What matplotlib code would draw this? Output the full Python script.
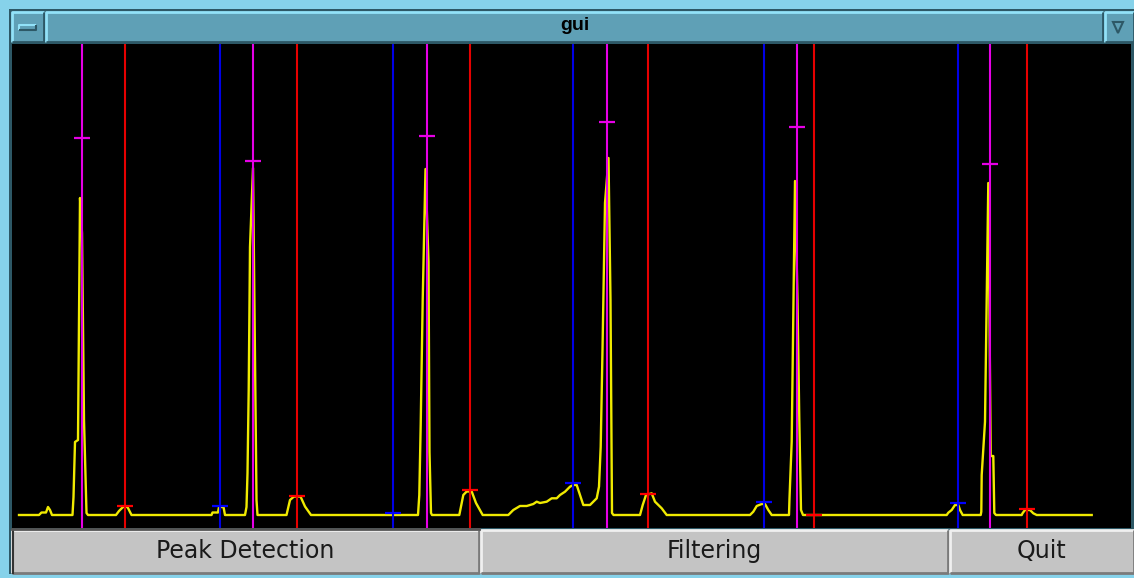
import matplotlib
matplotlib.use("Agg")
import matplotlib.pyplot as plt
from matplotlib.patches import Rectangle, Polygon

# ---------------- data ----------------
# ECG trace (sample position, amplitude)
t = [19, 39, 41.5, 46, 48, 50, 52, 72.5, 73.5, 75, 78, 80, 82, 84, 86.5, 88,
     116, 119, 123, 127.5, 131.5, 211.5, 212.5, 218, 219, 223.5, 225,
     245, 246.5, 247.5, 248.7, 250, 253, 256.5, 257.5,
     286.5, 290, 294, 300.5, 305, 311,
     418, 419.3, 420.7, 422.7, 425.5, 428.5, 429.5, 431, 432,
     459.3, 463.3, 466.7, 471.7, 476, 482.7,
     508.3, 513.3, 520, 526.7, 533.3, 536.7, 540, 546.7, 551.7, 556.7, 560, 565,
     570, 573.3, 576.7, 580, 583.3, 590, 596.7, 599, 600.7, 602.5, 605, 608.5,
     610.5, 612, 613.5,
     640, 642.7, 646, 651.7, 655, 661.7, 666.7,
     750, 753.3, 756.7, 761.7, 765, 768.3, 771.7,
     789, 789.5, 791.7, 795, 797.5, 799.3, 801, 803,
     946.7, 948.3, 951.7, 955, 958.3, 960, 962.7,
     980.7, 981.3, 981.7, 985, 988.3, 990.7, 993.3, 994.3, 996,
     1021.7, 1022.5, 1025, 1030, 1033.3, 1036.7, 1091.7]
ecg = [0, 0, 2.5, 2.5, 8, 5, 0, 0, 18, 73, 75, 317, 282, 95, 2, 0,
       0, 4, 8, 8, 0, 0, 2.5, 2.5, 8, 8, 0,
       0, 8, 42, 125, 268, 347, 15, 0,
       0, 15, 18.5, 18.5, 8.5, 0,
       0, 20, 90, 215, 346, 253, 63, 2, 0,
       0, 20, 23.5, 23.5, 12, 0,
       0, 5, 9, 9, 11, 13.3, 12, 13.3, 16.7, 16.7, 20, 23.3,
       28.3, 30, 30, 20, 10, 10, 16.7, 28.3, 68.3, 165, 312, 357,
       215, 2, 0,
       0, 10, 20, 21.7, 13.3, 6.7, 0,
       0, 3.3, 9, 11, 11, 5, 0,
       0, 16.7, 73.3, 334, 215, 95, 5, 0,
       0, 2.3, 5, 10, 10, 5, 0,
       0, 3.3, 40, 93.3, 332, 59, 59, 2, 0,
       0, 1.7, 5, 5, 1.7, 0, 0]

# detected R peaks (magenta)
r_pos = [81.7, 252.7, 427.3, 607.3, 796.7, 990]
r_amp = [376.7, 354, 378.7, 393.3, 387.7, 350.7]
# detected T waves (red)
t_pos = [125, 297.3, 470, 648.3, 813.7, 1027.3]
t_amp = [9.3, 18.7, 25, 21, 0, 6]
# detected P waves (blue)
p_pos = [220.3, 393.3, 573.3, 764.3, 958.3]
p_amp = [9.3, 1.7, 32, 13.3, 11.7]

title = "gui"
buttons = ["Peak Detection", "Filtering", "Quit"]

# ---------------- figure ----------------
W, H = 1134, 578
fig = plt.figure(figsize=(W / 100, H / 100), dpi=100)
fig.patch.set_facecolor("#86d2ea")

# chrome overlay in pixel coordinates
ch = fig.add_axes([0, 0, 1, 1], zorder=0)
ch.set_xlim(0, W)
ch.set_ylim(H, 0)
ch.axis("off")

def bevel(ax, x0, y0, x1, y1, fill, light, dark, lw=2):
    ax.add_patch(Rectangle((x0, y0), x1 - x0, y1 - y0, facecolor=fill,
                           edgecolor="none"))
    ax.plot([x0, x0, x1], [y1, y0, y0], color=light, lw=lw, solid_capstyle="butt")
    ax.plot([x0, x1, x1], [y1, y1, y0], color=dark, lw=lw, solid_capstyle="butt")

# dark frame line around contents
ch.add_patch(Rectangle((9, 9), 1134 - 9, 576 - 9 - 2, facecolor="#2d5866",
                       edgecolor="none"))
# title bar pieces
bevel(ch, 12, 12, 44, 42, "#5fa0b6", "#92e2f8", "#2d5866")
bevel(ch, 46, 12, 1103, 42, "#5fa0b6", "#92e2f8", "#2d5866")
bevel(ch, 1105, 12, 1134, 42, "#5fa0b6", "#92e2f8", "#2d5866")
bevel(ch, 19, 25, 36, 30, "#5fa0b6", "#92e2f8", "#2d5866", lw=1.5)
ch.add_patch(Polygon([[1113, 22], [1123, 22], [1118, 33]], closed=True,
                     facecolor="none", edgecolor="#2d5866", lw=1.5))
ch.text(575, 26, title, ha="center", va="center", fontsize=14,
        fontweight="bold", family="Liberation Sans", color="black")

# buttons
btn_x = [(12, 479), (481, 948), (950, 1134)]
for (x0, x1), lab in zip(btn_x, buttons):
    bevel(ch, x0, 530, x1, 573, "#c4c4c4", "#f0f0f0", "#7a7a7a")
    ch.text((x0 + x1) / 2, 551, lab, ha="center", va="center", fontsize=17,
            family="DejaVu Sans", color="#1a1a1a")
ch.plot([13, 13], [530, 573], color="#333333", lw=1.5)
ch.plot([12, 479], [529, 529], color="#555555", lw=2)

# ---------------- plot ----------------
ax = fig.add_axes([12 / W, (H - 528) / H, (1131 - 12) / W, (528 - 44) / H], zorder=2)
ax.set_facecolor("black")
ax.set_xlim(12, 1131)
ax.set_ylim(-13, 471)
for s in ax.spines.values():
    s.set_visible(False)
ax.set_xticks([])
ax.set_yticks([])

lw = 1.5
ax.plot(t, ecg, color="#f0ea00", lw=1.7, zorder=2)
for x in p_pos:
    ax.axvline(x, color="#0000e6", lw=lw, zorder=3)
for x in t_pos:
    ax.axvline(x, color="#e60000", lw=lw, zorder=3)
for x in r_pos:
    ax.axvline(x, color="#e600e6", lw=lw, zorder=3)

ms = 12
ax.plot(r_pos, r_amp, ls="none", marker="_", ms=ms, mew=1.6, color="#e600e6", zorder=4)
ax.plot(t_pos, t_amp, ls="none", marker="_", ms=ms, mew=1.6, color="#ff0000", zorder=4)
ax.plot(p_pos, p_amp, ls="none", marker="_", ms=ms, mew=1.6, color="#0000ff", zorder=4)

fig.savefig("out.png", dpi=100, facecolor=fig.get_facecolor())
